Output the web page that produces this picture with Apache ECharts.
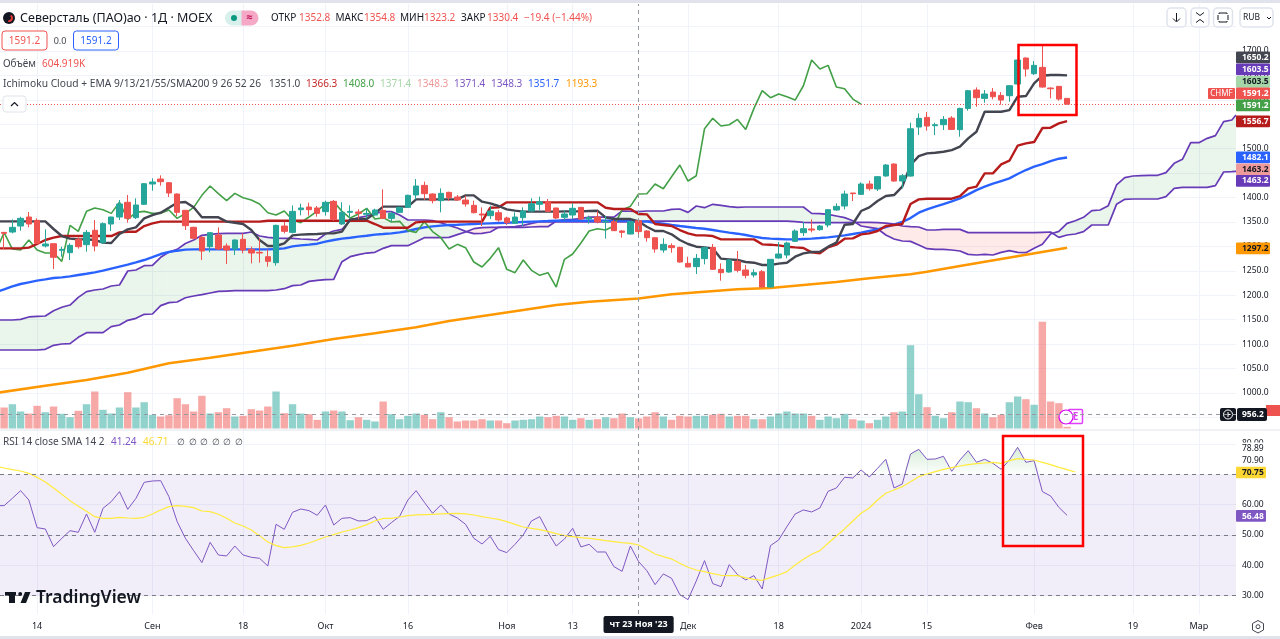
<!DOCTYPE html>
<html>
<head>
<meta charset="utf-8">
<title>CHMF</title>
<style>html,body{margin:0;padding:0;background:#fff}#chart{width:1280px;height:639px}</style>
<script src="https://cdn.jsdelivr.net/npm/echarts@6/dist/echarts.min.js"></script>
</head>
<body>
<div id="chart"></div>
<script>
// time axis, bar index -> label
const tickIndex = [4, 18, 29, 39, 49, 61, 69, 83, 94, 104, 112, 125, 137, 145];
const tickLabels = ['14', 'Сен', '18', 'Окт', '16', 'Ноя', '13', 'Дек', '18', '2024', '15', 'Фев', '19', 'Мар'];
const priceTicks = [1000, 1050, 1100, 1150, 1200, 1250, 1300, 1350, 1400, 1450, 1500, 1550, 1600, 1650, 1700];
const rsiTicks = [30, 40, 50, 60, 80];

const opens = [
  1328.8,1329.5,1341.8,1360.2,1353.4,1300.9,1305.6,1292,1287.2,1314.5,
  1303.6,1333,1307.7,1345.9,1360.2,1390.3,1358.9,1386.2,1427.8,1438,
  1430.5,1407.3,1373.9,1339.1,1318.6,1299.5,1323.4,1300.9,1294.7,1314.5,
  1294,1287.9,1279,1266.7,1341.8,1328.8,1375.2,1380.7,1378.7,1371.2,
  1392.3,1345.9,1369.8,1370.5,1365.7,1364.3,1373.9,1357.5,1369.8,1380,
  1405.3,1425,1407.3,1393.7,1410.7,1401.2,1395,1384.1,1366.4,1363,
  1369.1,1358.2,1347.3,1358.9,1372.5,1386.2,1391.6,1378.7,1359.6,1364.3,
  1380,1356.1,1360.2,1350,1350.7,1331.6,1325.4,1352.8,1331.6,1317.9,
  1292.7,1301.6,1298.1,1265.4,1258.6,1275,1298.1,1253.1,1247.6,1269.5,
  1251.7,1241.5,1248.3,1216.9,1276.3,1282.4,1310.4,1328.2,1335.7,1334.3,
  1343.9,1374.6,1382.8,1409.4,1406.6,1427.8,1417.6,1444.2,1468.7,1433.9,
  1444.1,1544.4,1564.2,1547.2,1549.2,1562.8,1539,1582.6,1620.2,1603.1,
  1616,1609.2,1608.6,1632.5,1685.7,1653.6,1666.6,1624.3,1627.7,1603.1
];
const closes = [
  1326.8,1339.1,1357.5,1345.9,1306.3,1305,1277.7,1294,1302.2,1299.5,
  1328.8,1300.9,1346.6,1360.2,1386.9,1357.5,1384.8,1428.5,1431.9,1432.6,
  1409.4,1369.8,1342.5,1316.6,1290.6,1328.2,1294.7,1292.7,1313.2,1292.7,
  1286.5,1286.5,1269.5,1343.2,1330.9,1371.8,1378.7,1375.2,1367.7,1390.3,
  1355.5,1369.8,1371.8,1367.7,1367.7,1374.6,1357.5,1367.7,1380,1404.6,
  1423.7,1408,1393.7,1408.7,1399.8,1395,1386.9,1369.1,1364.3,1372.5,
  1354.1,1348.6,1360.2,1372.5,1387.5,1391.6,1371.8,1358.2,1366.4,1378,
  1356.1,1358.9,1350,1351.4,1332.3,1328.8,1350.7,1330.4,1317.9,1294.7,
  1304.3,1297.5,1268.1,1257.9,1275.6,1297.5,1253.1,1246.3,1272.2,1251,
  1240.8,1246.3,1216.9,1273.6,1284.5,1307,1331.6,1336.3,1333.6,1341.8,
  1375.2,1382,1407.3,1408,1427.8,1418.2,1442.8,1466.7,1433.9,1444.8,
  1541,1562.2,1546.5,1549.2,1560.1,1539.6,1582.6,1618.8,1604.5,1612,
  1606.5,1599.7,1629,1681.6,1663.2,1670.7,1626.3,1622.9,1601.7,1591.2
];
const lows = [
  1294,1326.8,1332.3,1339.1,1305,1298,1253.8,1279,1272.2,1295.4,
  1289.3,1290,1305,1331.6,1354.1,1348.6,1356.1,1384.8,1414.1,1424.4,
  1401.2,1362.3,1333.6,1314.5,1272.2,1287.9,1292.7,1264,1282.4,1285.9,
  1265.4,1266.7,1258.6,1260.6,1326.8,1326.8,1363.6,1363,1360.9,1363,
  1352.7,1343.9,1358.2,1355.5,1357.5,1363,1356.1,1350.7,1368.4,1378.7,
  1396.4,1395,1388.2,1369.8,1393,1393.7,1381.4,1367.7,1341.8,1356.1,
  1350.7,1343.9,1345.9,1341.8,1371.2,1374.6,1369.8,1356.1,1352.7,1355.5,
  1354.1,1346.6,1347.3,1315.9,1331.6,1318,1324.8,1323.2,1309.8,1287.2,
  1287.2,1287.2,1266.7,1257.2,1243.6,1263.3,1251.7,1229.9,1246.3,1247,
  1234.7,1236.7,1216.2,1216.2,1275,1275.6,1309,1321.3,1328.8,1332.3,
  1339.1,1373.2,1375.9,1393,1405.3,1414.1,1413.5,1442.8,1432.5,1418.9,
  1442.7,1528,1536.9,1528,1538.3,1538.3,1524.6,1577.9,1586,1594.2,
  1601,1590.1,1596.3,1630.4,1647.5,1650.9,1625,1603.1,1598.3,1590.8
];
const highs = [
  1329,1355.5,1360.9,1370.5,1357.5,1335,1305.6,1299.5,1306.3,1318.6,
  1333.6,1354.1,1349.3,1360.9,1395,1405.3,1398.5,1429.2,1439.4,1445.5,
  1431.9,1408.7,1374.6,1340.4,1321.3,1328.2,1339.1,1306.3,1314.5,1326.8,
  1299.5,1316.6,1294,1344.5,1350.7,1384.1,1387.5,1389.6,1382.8,1393.7,
  1395,1390.3,1384.1,1376,1378,1377.3,1416.9,1371.2,1381.4,1406,
  1438,1432.6,1408.7,1418.9,1412.1,1405.3,1403.9,1393.7,1380,1383.4,
  1374.6,1360.9,1369.8,1380,1398.5,1401.9,1397.1,1379.3,1374.6,1388.2,
  1380,1363,1372.5,1362.3,1354.1,1333.6,1352,1354.8,1333.6,1318.6,
  1316.6,1306.3,1299.5,1279,1284.5,1299.5,1305,1265.4,1273.6,1290.6,
  1262,1253.1,1251.7,1274.3,1309,1309.7,1335,1350,1355.5,1343.9,
  1376.6,1388.2,1414.1,1409.4,1431.2,1434.6,1444.2,1468.7,1470,1448.2,
  1553.3,1572.4,1575.1,1553.3,1566.9,1566.9,1584,1620.2,1625.6,1620.2,
  1624.3,1616,1630.4,1683,1687,1679.5,1711.6,1625.6,1628.4,1603.1
];
// volume in thousands
const volumes = [
  1260,1458,1020,900,1362,978,1320,882,678,1062,
  1458,2220,1122,900,1260,2178,1260,1578,822,720,
  798,1818,1458,1020,1962,900,978,1218,720,762,
  1158,1080,1320,2220,918,1458,900,858,522,1020,
  1080,1020,498,678,522,420,1620,858,558,762,
  900,822,558,978,678,420,480,480,558,480,
  480,318,480,522,558,720,678,762,720,522,
  618,522,558,678,618,900,678,605,720,978,
  720,522,762,720,762,762,822,882,720,762,
  762,558,558,720,900,1020,900,900,762,522,
  720,618,882,558,480,318,522,720,978,1020,
  4998,2058,1278,762,618,978,1620,1578,1218,900,
  678,822,1578,1920,1758,1422,6402,1620,1518,102
];
// the line arrays below start one bar before the first candle, off the left edge
const conversion = [
  1351.4,1351.4,1351.4,1351.4,1351.4,1351.4,1351.4,1335.7,1321.3,1315.9,1314.5,
  1314.5,1313.2,1307.7,1307,1325.4,1335,1339.1,1357.5,1364.3,1369.1,
  1379.3,1389.6,1390.9,1380,1359.6,1359.6,1359.6,1350.7,1348.6,1345.9,
  1333.6,1313.2,1300.9,1300.9,1306.3,1322.7,1324.1,1324.8,1325.4,1326.8,
  1326.8,1330.2,1355.5,1356.8,1356.1,1367.7,1381.4,1381.4,1381.4,1381.4,
  1396.4,1396.4,1396.4,1396.4,1396.4,1396.4,1404.6,1404.6,1391.6,1388.2,
  1382.8,1375.9,1373.2,1371.2,1371.2,1371.2,1371.2,1371.2,1371.8,1371.8,
  1371.8,1372.5,1373.2,1359.6,1356.1,1356.1,1356.1,1351,1340.4,1331.6,
  1331.6,1324.8,1313.2,1305,1299.5,1298.1,1296.1,1275,1273.6,1272.2,
  1268.1,1266.7,1262,1262,1264.7,1266.7,1279,1285.9,1288.6,1289.3,
  1299.5,1307.7,1344.5,1345.9,1372.5,1380,1393,1403.2,1405.2,1422.3,
  1466.6,1485,1490.5,1491.9,1493.9,1497.3,1504.2,1521.2,1534.9,1575.8,
  1575.8,1575.8,1579.2,1606.5,1607.9,1633.8,1649.5,1650.9,1650.9,1650.2
];
const baseLine = [
  1296.1,1296.1,1296.1,1296.1,1297.5,1305,1313.2,1317.9,1321.3,1321.3,1321.3,
  1321.3,1321.3,1321.3,1321.3,1328.8,1330.2,1330.2,1341.8,1347.3,1350.7,
  1350.7,1350.7,1350.7,1350.7,1350.7,1350.7,1350.7,1350.7,1350.7,1350.7,
  1350.7,1350.7,1352.7,1352.7,1352.7,1352.7,1352.7,1352.7,1352.7,1352.7,
  1352.7,1352.7,1352.7,1352.7,1352.7,1345.9,1338.4,1338.4,1338.4,1338.4,
  1349.3,1350.7,1350.7,1350.7,1350.7,1350.7,1350.7,1350.7,1350.7,1379.3,
  1380,1390.3,1390.3,1390.3,1390.3,1390.3,1390.3,1390.3,1390.3,1390.3,
  1390.3,1390.3,1390.3,1379.3,1376.6,1376.6,1376.6,1366.3,1365.7,1345.9,
  1343.9,1341.8,1333.6,1326.8,1322.7,1322.7,1321.3,1314.5,1314.5,1314.5,
  1314.5,1314.5,1304.3,1303.6,1302.2,1299.5,1298.1,1296.8,1287.9,1285.9,
  1298.1,1303.6,1315.9,1316.6,1324.8,1326.8,1331.6,1341.8,1343.9,1346,
  1387,1396.3,1397.7,1397.7,1397.7,1397.7,1403.2,1418.9,1422.3,1449.6,
  1449.6,1468,1475.5,1506.2,1511,1513.7,1542.4,1543.1,1551.9,1556.7
];
const lagging = [
  1290.6,1328.2,1294.7,1292.7,1313.2,1292.7,1286.5,1286.5,1269.5,1343.2,1330.9,
  1371.8,1378.7,1375.2,1367.7,1390.3,1355.5,1369.8,1371.8,1367.7,1367.7,
  1374.6,1357.5,1367.7,1380,1404.6,1423.7,1408,1393.7,1408.7,1399.8,
  1395,1386.9,1369.1,1364.3,1372.5,1354.1,1348.6,1360.2,1372.5,1387.5,
  1391.6,1371.8,1358.2,1366.4,1378,1356.1,1358.9,1350,1351.4,1332.3,
  1328.8,1350.7,1330.4,1317.9,1294.7,1304.3,1297.5,1268.1,1257.9,1275.6,
  1297.5,1253.1,1246.3,1272.2,1251,1240.8,1246.3,1216.9,1273.6,1284.5,
  1307,1331.6,1336.3,1333.6,1341.8,1375.2,1382,1407.3,1408,1427.8,
  1418.2,1442.8,1466.7,1433.9,1444.8,1541,1562.2,1546.5,1549.2,1560.1,
  1539.6,1582.6,1618.8,1604.5,1612,1606.5,1599.7,1629,1681.6,1663.2,
  1670.7,1626.3,1622.9,1601.7,1591.2
];
// last entry of both spans sits on the pane edge
const spanA = [
  1149.4,1149.4,1149.4,1150.8,1155.6,1156.9,1157.6,1168.5,1175.4,1180.1,1195.8,
  1207.4,1210.8,1212.9,1219,1221.1,1249.7,1251.8,1260.7,1261.3,1277.7,
  1288.6,1294,1306,1313.2,1322.7,1324.8,1326.1,1326.8,1326.8,1326.8,
  1329.5,1321.3,1318.6,1317.2,1316.6,1316.6,1315.2,1314.5,1313.2,1325.4,
  1331.6,1335,1352.7,1358.9,1362.3,1367.7,1371.2,1371.2,1364.3,1354.1,
  1354.1,1354.1,1352.7,1348.6,1343.2,1337.7,1330.9,1326.1,1326.8,1329.5,
  1339.1,1339.1,1339.1,1339.1,1339.8,1340.4,1340.4,1352,1355,1355.5,
  1357,1360,1360,1360,1360,1372.5,1372,1371.4,1372.5,1372.5,
  1372.5,1375.9,1376.6,1369.8,1382.8,1379.3,1386.2,1384.1,1381.4,1380,
  1380.7,1380.7,1380.7,1380.7,1380.7,1380.7,1380.7,1380.7,1367.7,1367,
  1365.7,1362.3,1358.9,1352.7,1341.8,1339.1,1336.3,1323.4,1315.2,1311.1,
  1310.4,1302.9,1295.4,1294,1294,1292.7,1290.6,1283.8,1282.5,1283.8,
  1282.5,1287.9,1291.3,1287.9,1287.2,1296.1,1304.3,1325.4,1330.9,1347.3,
  1352.7,1359.6,1373.2,1374.6,1383.5,1425.8,1440.8,1444.2,1444.9,1445.6,
  1445.6,1451,1470.1,1478.3,1512.4,1512.4,1521.3,1526.8,1555.4,1558.8,
  1569
];
const spanB = [
  1088,1088,1088,1088,1088,1088,1089.4,1097.6,1100.3,1101,1113.9,
  1123.5,1123.5,1123.5,1135.8,1139.2,1148.7,1152.8,1161,1161.7,1178.8,
  1184.9,1186.3,1195,1198.5,1201.2,1204.6,1208,1208.7,1209.4,1209.4,
  1209.4,1209.4,1209.4,1210.8,1213.5,1219.7,1221,1228.5,1230.6,1232,
  1232.6,1268.8,1279,1283.1,1286.5,1287.9,1296.1,1301.6,1301.6,1301.6,
  1309.7,1318,1318,1318,1318.6,1324.1,1329.5,1336.3,1338.4,1339.1,
  1339.1,1339.8,1340.4,1343.2,1347.3,1350.7,1350,1350,1350,1350,
  1350,1350,1350,1350,1350,1350,1350,1350,1352,1352,
  1352,1352,1352,1352,1352,1352,1352,1352,1352,1352,
  1352,1352,1352,1352,1352,1352,1350.7,1349.3,1348.6,1348.6,
  1348.6,1348.6,1348.6,1349.3,1349.3,1349.3,1348.6,1347.9,1345.9,1341.8,
  1340.4,1339.8,1333.6,1333.6,1335,1335,1335,1328.2,1328.2,1328.2,
  1328.2,1328.2,1328.2,1328.2,1328.2,1328.2,1328.9,1329.5,1318.6,1323.4,
  1325.4,1330.2,1343.9,1343.9,1343.9,1386.2,1396.4,1397.1,1397.1,1397.1,
  1397.1,1401.9,1418.9,1421,1421,1421,1421,1424.4,1452.4,1453,
  1453.7
];
const ema = [
  1206.5,1212.2,1218.3,1223.1,1226.5,1229.9,1232.6,1235.4,1236.7,1238.8,1241.5,
  1244.2,1247,1250.4,1254.5,1258.6,1262.7,1267.4,1272.2,1278.3,1284.5,
  1288.6,1291.3,1293.4,1294,1294,1294,1294,1294,1294,1294,
  1294,1294,1294,1294.7,1296.1,1300.2,1302.2,1303.6,1305.6,1309.7,
  1313.2,1315.9,1317.9,1320,1322,1324.1,1325.4,1326.8,1328.8,1331.6,
  1335.7,1339.1,1341.1,1342.5,1343.9,1344.5,1345.2,1345.9,1346.6,1347.3,
  1348,1348.6,1349.3,1350,1350.7,1351.4,1352,1352.7,1352.7,1352.7,
  1352.7,1352.7,1352.7,1352.7,1352.7,1352.7,1352.7,1351.7,1350.7,1348.6,
  1346.6,1343.9,1341.8,1339.8,1337.7,1336.3,1333.6,1330.9,1328.2,1326.1,
  1323.4,1320,1317.2,1315.9,1315.2,1314.5,1314.5,1315.2,1315.9,1317.2,
  1318.6,1320.7,1322.7,1325.4,1328.2,1331.6,1335,1339.8,1344.5,1350,
  1358,1369,1375.9,1381.3,1386.8,1392.2,1398.4,1406.6,1415.4,1422.3,
  1428.4,1433.9,1439.3,1448.2,1456.4,1463.2,1468.7,1474.8,1479.6,1482.1
];
// long average read at its bends
const smaIndex = [-1,5,10,15,20,25,30,35,40,45,50,54,63,67,71,77,81,85,89,93,97,101,105,110,112,116,129];
const smaValues = [1000,1015,1026.6,1041.6,1060.7,1072.3,1084.6,1096.9,1110.5,1122.1,1134.4,1147.4,1170,1180.1,1186.9,1193.3,1201.9,1207.4,1212.2,1214.9,1221,1227.2,1234.7,1242.9,1248.3,1260,1297.2];
const rsi = [
  59.67,59.67,62.09,64.61,61.54,52.42,51.98,46.17,48.91,51.43,50.89,
  56.93,50.89,58.79,60.99,64.28,58.46,62.09,67.36,67.8,67.9,
  62.63,54.4,48.91,44.85,40.9,47.59,43.42,43.09,46.38,43.42,
  42.65,42.32,39.8,53.52,51.87,57.47,58.57,58.02,56.49,59.89,
  53.3,55.5,55.72,54.62,54.73,56.05,51.87,54.07,56.16,61.54,
  64.61,60.77,57.15,59.89,56.93,55.61,53.52,48.91,47.04,49.57,
  45.18,44.19,46.93,50.01,54.62,56.05,50.89,46.38,48.69,52.2,
  46.06,46.93,44.41,44.41,39.58,38.04,46.38,41.24,38.26,33.65,
  37.17,35.74,30.36,28.71,34.86,41.56,33.98,32.99,40.24,36.95,
  35.19,36.62,32.23,46.5,48.37,52.76,56.93,58.25,57.59,58.91,
  64.4,65.49,69.01,68.79,71.42,69.12,71.97,74.94,65.49,66.81,
  76.69,78.23,74.94,75.05,75.93,70.98,74.72,77.79,73.95,74.94,
  73.62,71.64,74.72,78.89,73.95,74.5,64.29,62.86,59.13,56.48
];
const rsiMa = [
  72.6,72.08,71.53,71.09,70.32,69,67.47,65.49,63.42,61.32,59.45,
  57.8,56.05,55.5,55.5,55.83,55.61,55.5,55.83,56.93,58.24,
  59.34,59.67,59.45,59.01,57.91,57.69,56.82,55.5,53.96,52.97,
  51.65,49.79,47.7,46.49,45.84,46.06,46.6,47.37,48.36,49.35,
  50.12,51,51.65,52.42,53.41,54.62,55.5,55.5,55.94,56.38,
  56.6,56.71,56.82,56.93,57.04,57.15,56.93,56.6,56.05,55.61,
  55.17,54.4,53.52,52.64,52.2,51.76,51.22,50.45,49.79,49.46,
  49.13,48.91,48.58,48.14,47.81,47.48,47.26,46.71,45.29,43.75,
  42.88,42.11,40.68,39.36,38.48,37.94,37.28,36.73,36.62,36.62,
  35.85,35.41,35.08,35.96,36.84,37.94,40.13,42,43.65,44.85,
  47.27,49.68,52,54.62,57.15,58.91,61.54,63.74,64.84,65.93,
  67.58,69.23,70.11,70.88,71.64,72.19,72.74,73.18,73.51,73.73,
  73.95,73.62,74.5,75.16,74.94,74.72,73.95,73.18,72.3,71.53,
  70.75
];

// right axis tags
const priceTagText = ['1650.2', '1603.5', '1603.5', '1591.2', '1591.2', '1556.7', '1482.1', '1463.2', '1463.2', '1297.2'];
const priceTagY = [51.5, 63.5, 76, 87.5, 99.5, 115.5, 151.5, 163.5, 175, 242.5];
const priceTagBg = ['#434651', '#673ab7', '#a5d6a7', '#ef5350', '#43a047', '#b71c1c', '#2962ff', '#ef9a9a', '#673ab7', '#ff9800'];
const priceTagInk = ['#fff', '#fff', '#131722', '#fff', '#fff', '#fff', '#fff', '#131722', '#fff', '#131722'];

const ohlcNames = ['ОТКР', 'МАКС', 'МИН', 'ЗАКР'];
const ohlcValues = ['1352.8', '1354.8', '1323.2', '1330.4'];
const ohlcNameX = [271, 335.5, 400, 461];
const ohlcValueX = [299, 364, 424, 487];
const ichimokuValues = ['1351.0', '1366.3', '1408.0', '1371.4', '1348.3', '1371.4', '1348.3', '1351.7', '1193.3'];
const ichimokuX = [269, 306, 343, 380, 417, 454, 491, 528, 566];
const ichimokuInk = ['#434651', '#c62828', '#43a047', '#a5d6a7', '#ef9a9a', '#7e57c2', '#7e57c2', '#2962ff', '#ff9800'];

const FONT = '"Noto Sans", "Open Sans", sans-serif';
const UP = '#26a69a', DOWN = '#ef5350', GRID = '#f0f3fa', INK = '#434651';
const LAST = 149.5;  // right edge of the pane in bar units

const chart = echarts.init(document.getElementById('chart'));

// arrays start at bar -1
function pairs(arr) {
  return arr.map((v, i) => [i - 1, v]);
}

function spanPairs(arr) {
  return arr.map((v, i) => [i === arr.length - 1 ? LAST : i - 1, v]);
}

function hiddenX(gridIndex) {
  return { type: 'value', gridIndex, min: -0.5, max: LAST, show: false };
}

// cloud between the two spans, split where they cross
const spanPtsA = spanPairs(spanA), spanPtsB = spanPairs(spanB);
const cloudData = [];
for (let i = 0; i < spanPtsA.length - 1; i++) {
  cloudData.push([spanPtsA[i][0], spanPtsA[i][1], spanPtsB[i][1], spanPtsA[i + 1][0], spanPtsA[i + 1][1], spanPtsB[i + 1][1]]);
}

function renderCloud(params, api) {
  const x0 = api.value(0), a0 = api.value(1), b0 = api.value(2);
  const x1 = api.value(3), a1 = api.value(4), b1 = api.value(5);
  const fill = (pts, up) => ({
    type: 'polygon',
    shape: { points: pts.map(p => api.coord(p)) },
    style: { fill: up ? 'rgba(67,160,71,0.11)' : 'rgba(244,67,54,0.11)' }
  });
  const d0 = a0 - b0, d1 = a1 - b1;
  if (d0 * d1 >= 0) {
    return { type: 'group', children: [fill([[x0, a0], [x1, a1], [x1, b1], [x0, b0]], d0 + d1 >= 0)] };
  }
  const t = d0 / (d0 - d1);
  const cx = x0 + (x1 - x0) * t, cy = a0 + (a1 - a0) * t;
  return { type: 'group', children: [
    fill([[x0, a0], [cx, cy], [x0, b0]], d0 > 0),
    fill([[cx, cy], [x1, a1], [x1, b1]], d1 > 0)
  ] };
}

function lineSeries(name, data, color, width, z) {
  return {
    name, type: 'line', xAxisIndex: 1, yAxisIndex: 1, data,
    showSymbol: false, symbol: 'none', silent: true, z: z || 3,
    lineStyle: { color, width }
  };
}

const series = [
  {
    name: 'cloud', type: 'custom', xAxisIndex: 1, yAxisIndex: 1, renderItem: renderCloud, clip: true,
    data: cloudData, silent: true, z: 1, encode: { x: [0, 3], y: [1, 2, 4, 5] }
  },
  {
    name: 'volume', type: 'bar', xAxisIndex: 2, yAxisIndex: 2, barWidth: 7.4, silent: true, z: 1,
    data: volumes.map((v, i) => ({
      value: [i, v],
      itemStyle: { color: closes[i] >= opens[i] ? 'rgba(38,166,154,0.5)' : 'rgba(239,83,80,0.5)' }
    }))
  },
  lineSeries('span a', spanPtsA, '#673ab7', 1.7),
  lineSeries('span b', spanPtsB, '#673ab7', 1.7),
  lineSeries('sma200', smaIndex.map((x, i) => [x, smaValues[i]]), '#ff9800', 2.5),
  lineSeries('ema', pairs(ema), '#2962ff', 2.4),
  lineSeries('lagging', pairs(lagging), '#43a047', 1.6),
  lineSeries('base', pairs(baseLine), '#b71c1c', 2.4),
  lineSeries('conversion', pairs(conversion), '#434651', 2.4),
  {
    name: 'candles', type: 'candlestick', xAxisIndex: 1, yAxisIndex: 1, barWidth: 6, silent: true, z: 5,
    encode: { x: 0, y: [1, 2, 3, 4] },
    data: opens.map((o, i) => [i, o, closes[i], lows[i], highs[i]]),
    itemStyle: { color: UP, color0: DOWN, borderColor: UP, borderColor0: DOWN, borderWidth: 1 },
    markLine: {
      silent: true, symbol: 'none', animation: false, label: { show: false },
      lineStyle: { color: '#ef5350', type: [1, 2], width: 1 },
      data: [{ yAxis: closes[closes.length - 1] }]
    }
  },
  {
    name: 'rsi over', type: 'line', xAxisIndex: 3, yAxisIndex: 3, symbol: 'none', silent: true, z: 2,
    data: pairs(rsi).map(p => [p[0], Math.max(p[1], 70)]),
    lineStyle: { width: 0 },
    areaStyle: {
      origin: 70,
      color: { type: 'linear', x: 0, y: 0, x2: 0, y2: 1, colorStops: [
        { offset: 0, color: 'rgba(76,175,80,0.32)' }, { offset: 1, color: 'rgba(76,175,80,0.02)' }
      ] }
    }
  },
  {
    name: 'rsi', type: 'line', xAxisIndex: 3, yAxisIndex: 3, data: pairs(rsi), symbol: 'none', silent: true, z: 3,
    lineStyle: { color: '#7e57c2', width: 1 },
    markArea: {
      silent: true, animation: false, itemStyle: { color: 'rgba(126,87,194,0.1)' },
      data: [[{ yAxis: 30 }, { yAxis: 70 }]]
    },
    markLine: {
      silent: true, symbol: 'none', animation: false, label: { show: false },
      lineStyle: { color: '#787b86', type: [4, 4], width: 1 },
      data: [{ yAxis: 70 }, { yAxis: 50 }, { yAxis: 30 }]
    }
  },
  {
    name: 'rsi ma', type: 'line', xAxisIndex: 3, yAxisIndex: 3, data: pairs(rsiMa), symbol: 'none', silent: true, z: 3,
    lineStyle: { color: '#ffeb3b', width: 1.2 }
  }
];

// everything around the plot: legend, tags, buttons
const extras = [];
function txt(x, y, text, fill, size, weight, align) {
  extras.push({
    type: 'text', x, y, z: 50, silent: true,
    style: { text, fill: fill || INK, font: (weight || 400) + ' ' + (size || 10) + 'px ' + FONT,
      textAlign: align || 'left', textVerticalAlign: 'middle' }
  });
}
function box(x, y, w, h, fill, stroke, r, lw) {
  extras.push({
    type: 'rect', z: 49, silent: true, shape: { x, y, width: w, height: h, r: r || 0 },
    style: { fill: fill || 'none', stroke: stroke || 'none', lineWidth: lw || 1 }
  });
}
function seg(points, stroke, lw) {
  extras.push({
    type: 'polyline', z: 50, silent: true, shape: { points },
    style: { fill: 'none', stroke: stroke || INK, lineWidth: lw || 1 }
  });
}

// frame strips
box(0, 0, 1280, 3, '#e0e3eb');
box(0, 636, 1280, 3, '#e0e3eb');
box(0, 429.5, 1280, 1, '#e0e3eb');

// symbol row
extras.push({ type: 'circle', z: 50, silent: true, shape: { cx: 9, cy: 18, r: 6 }, style: { fill: '#131722' } });
extras.push({ type: 'arc', z: 51, silent: true, shape: { cx: 9, cy: 18, r: 3, startAngle: -1, endAngle: 1.8 }, style: { fill: 'none', stroke: '#e53935', lineWidth: 2 } });
txt(20, 18, 'Северсталь (ПАО)ао · 1Д · MOEX', '#131722', 12.5);
box(225, 10.5, 17, 15, '#d7f0ec', null, [7.5, 0, 0, 7.5]);
box(241.5, 10.5, 17, 15, '#f5a9c6', null, [0, 7.5, 7.5, 0]);
extras.push({ type: 'circle', z: 50, silent: true, shape: { cx: 234, cy: 18, r: 3 }, style: { fill: '#089981' } });
txt(249.5, 18, '≈', '#c2185b', 11, 700, 'center');
ohlcNames.forEach((n, i) => {
  txt(ohlcNameX[i], 18, n, '#131722', 10);
  txt(ohlcValueX[i], 18, ohlcValues[i], DOWN, 10);
});
txt(524, 18, '−19.4 (−1.44%)', DOWN, 10);

// bid / ask row
box(2, 31, 45, 19, '#fff', '#ef5350', 3);
txt(24.5, 41, '1591.2', '#ef5350', 10, 400, 'center');
txt(60, 41, '0.0', INK, 9, 400, 'center');
box(73.5, 31, 45, 19, '#fff', '#2962ff', 3);
txt(96, 41, '1591.2', '#2962ff', 10, 400, 'center');

txt(3, 64, 'Объём', INK, 10);
txt(42, 64, '604.919K', DOWN, 10);

txt(3, 84, 'Ichimoku Cloud + EMA 9/13/21/55/SMA200 9 26 52 26', INK, 10.25);
ichimokuValues.forEach((v, i) => txt(ichimokuX[i], 84, v, ichimokuInk[i], 10));
box(3, 96, 23, 16, '#fff', '#e0e3eb', 3);
seg([[11, 106], [14.5, 102.5], [18, 106]], '#131722', 1.2);

// rsi legend
txt(3, 442, 'RSI 14 close SMA 14 2', INK, 10);
txt(111, 442, '41.24', '#7e57c2', 10);
txt(143, 442, '46.71', '#fdd835', 10);
[177, 189, 200, 212, 223, 235].forEach(x => txt(x, 442, '∅', INK, 9));

// top right buttons
box(1167, 8, 19, 19, '#fff', '#e0e3eb', 4, 1.5);
box(1191, 8, 18, 19, '#fff', '#e0e3eb', 4, 1.5);
box(1213.5, 8, 19, 19, '#fff', '#e0e3eb', 4, 1.5);
box(1240, 8, 33, 19, '#fff', '#e0e3eb', 4, 1.5);
seg([[1176.5, 13], [1176.5, 21]], '#131722');
seg([[1173, 18.5], [1176.5, 22], [1180, 18.5]], '#131722');
seg([[1196, 12.5], [1200, 15.5], [1204, 12.5]], '#131722');
seg([[1196, 22.5], [1200, 19.5], [1204, 22.5]], '#131722');
seg([[1219, 14], [1219, 13], [1227, 13], [1227, 14]], '#131722');
seg([[1219, 21], [1219, 22], [1227, 22], [1227, 21]], '#131722');
seg([[1218, 15], [1218, 20]], '#131722');
seg([[1228, 15], [1228, 20]], '#131722');
txt(1243, 17.5, 'RUB', '#131722', 8.5);
seg([[1267, 17], [1269, 19], [1271, 17]], '#131722');

// price tags on the axis
priceTagText.forEach((t, i) => {
  box(1236, priceTagY[i], 34, 11.7, priceTagBg[i], null, 1);
  txt(1242, priceTagY[i] + 6, t, priceTagInk[i], 8.5, 700);
});
box(1208, 88, 27, 11, '#ef5350', null, 1);
txt(1221.5, 93.8, 'CHMF', '#fff', 8, 400, 'center');

// rsi axis extras, the white strip hides most of the 80 label like the reference
box(1236, 442.5, 44, 23.5, '#fff');
txt(1242, 448.5, '78.89', '#131722', 8.5);
txt(1242, 460.5, '70.90', '#131722', 8.5);
box(1236, 466.7, 30, 11.6, '#fdd835', null, 1);
txt(1242, 472.8, '70.75', '#131722', 8.5, 700);
box(1236, 510, 30, 11.7, '#7e57c2', null, 1);
txt(1242, 516.2, '56.48', '#fff', 8.5, 700);

// crosshair tag parts
box(1266, 405, 14, 11, '#ef5350');
box(1220, 408, 16, 13, '#131722', null, 2);
extras.push({ type: 'circle', z: 50, silent: true, shape: { cx: 1228, cy: 414.5, r: 4.5 }, style: { fill: 'none', stroke: '#fff', lineWidth: 1 } });
seg([[1225.5, 414.5], [1230.5, 414.5]], '#fff');
seg([[1228, 412], [1228, 417]], '#fff');
box(1237, 408, 30, 13, '#131722', null, 2);
txt(1242, 414.8, '956.2', '#fff', 8.5, 700);

// earnings marker
extras.push({ type: 'circle', z: 50, silent: true, shape: { cx: 1066, cy: 417, r: 7 }, style: { fill: '#fff', stroke: '#d500f9', lineWidth: 1.2 } });
box(1068.5, 409.5, 14, 14, '#fff', '#e040fb', 1, 1.5);
txt(1075.5, 416.8, 'E', '#e040fb', 10, 700, 'center');

// drawn boxes
box(1018.5, 45, 58, 70, null, '#ff0000', 0, 2.5);
box(1003, 436, 80, 110, null, '#ff0000', 0, 2.5);

// logo
box(5, 592, 11, 3.6, '#131722');
box(9, 592, 6, 11, '#131722');
extras.push({ type: 'circle', z: 50, silent: true, shape: { cx: 20.2, cy: 594, r: 2 }, style: { fill: '#131722' } });
extras.push({ type: 'polygon', z: 50, silent: true, shape: { points: [[25, 592], [30.5, 592], [26, 603], [20.5, 603]] }, style: { fill: '#131722' } });
txt(36, 598, 'TradingView', '#131722', 17.5, 600);

// settings gear
extras.push({ type: 'polygon', z: 50, silent: true, shape: { points: [[1258, 620.5], [1263.5, 623.5], [1263.5, 630], [1258, 633], [1252.5, 630], [1252.5, 623.5]] }, style: { fill: 'none', stroke: '#434651', lineWidth: 1 } });
extras.push({ type: 'circle', z: 50, silent: true, shape: { cx: 1258, cy: 626.7, r: 2 }, style: { fill: 'none', stroke: '#434651', lineWidth: 1 } });

chart.setOption({
  animation: false,
  backgroundColor: '#fff',
  textStyle: { fontFamily: FONT },
  grid: [
    { left: 0, width: 1236, top: 4, height: 610 },       // vertical lines and time scale
    { left: 0, width: 1236, top: 2.2, height: 415.2 },   // price
    { left: 0, width: 1236, top: 288.5, height: 140 },   // volume
    { left: 0, width: 1236, top: 437.88, height: 173 }   // rsi
  ],
  xAxis: [
    {
      type: 'value', gridIndex: 0, min: -0.5, max: LAST, position: 'bottom',
      axisLine: { show: false },
      axisTick: { show: false, customValues: tickIndex },
      splitLine: { show: true, lineStyle: { color: GRID, width: 1 } },
      axisLabel: {
        customValues: tickIndex, margin: 8, fontSize: 9, color: '#131722', fontFamily: FONT,
        formatter: v => tickLabels[tickIndex.indexOf(v)],
        showMinLabel: true, showMaxLabel: true
      },
      axisPointer: {
        show: true, status: 'show', value: 77, snap: false, triggerTooltip: false,
        lineStyle: { color: '#9598a1', type: [4, 4], width: 1 },
        label: {
          show: true, formatter: () => "чт 23 Ноя '23", backgroundColor: '#131722', color: '#fff',
          fontSize: 9, fontWeight: 700, fontFamily: FONT, padding: [4, 6, 4, 6], margin: 2, borderRadius: 2
        }
      }
    },
    hiddenX(1), hiddenX(2), hiddenX(3)
  ],
  yAxis: [
    { type: 'value', gridIndex: 0, min: 0, max: 1, show: false },
    {
      type: 'value', gridIndex: 1, min: 950, max: 1800, interval: 50, position: 'right', scale: true,
      axisLine: { show: false }, axisTick: { show: false },
      splitLine: { lineStyle: { color: GRID, width: 1 } },
      axisLabel: {
        margin: 6, fontSize: 8.5, color: '#131722', fontFamily: FONT, align: 'left', padding: [2, 0, 0, 0],
        formatter: v => priceTicks.indexOf(v) >= 0 ? v.toFixed(1) : ''
      },
      axisPointer: {
        show: true, status: 'show', value: 956.2, snap: false, triggerTooltip: false,
        lineStyle: { color: '#9598a1', type: [4, 4], width: 1 },
        label: { show: false }
      }
    },
    { type: 'value', gridIndex: 2, min: 0, max: 8400, show: false },
    {
      type: 'value', gridIndex: 3, min: 25, max: 82, position: 'right',
      axisLine: { show: false },
      axisTick: { show: false, customValues: rsiTicks },
      splitLine: { show: true, lineStyle: { color: GRID, width: 1 } },
      axisLabel: {
        customValues: rsiTicks, margin: 6, fontSize: 8.5, color: '#131722', fontFamily: FONT, align: 'left', padding: [2, 0, 0, 0],
        formatter: v => v.toFixed(2)
      }
    }
  ],
  series,
  graphic: { elements: extras }
});
</script>
</body>
</html>
